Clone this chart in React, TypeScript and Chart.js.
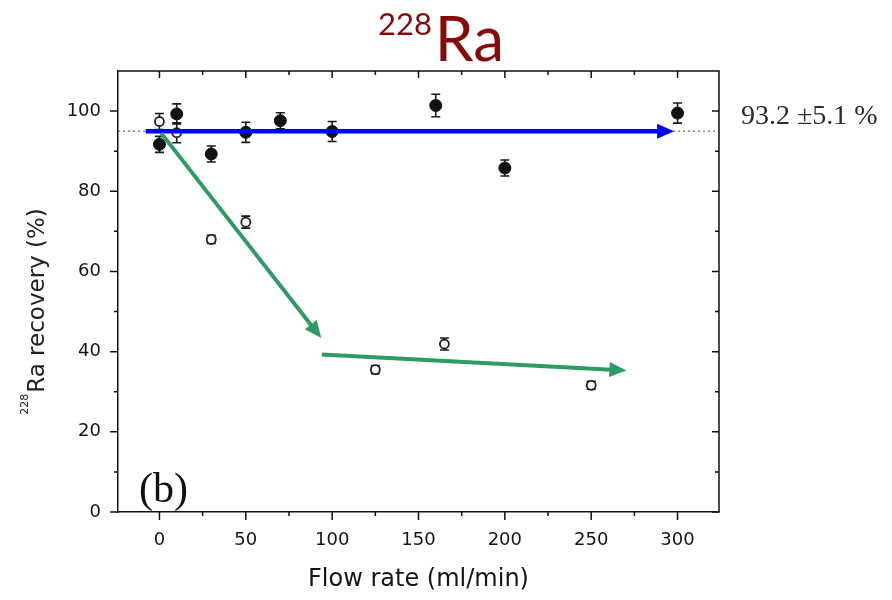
import React, { useEffect, useRef } from "react";
import { Chart, registerables } from "chart.js";

Chart.register(...registerables);

// ---- data ----
const flowFilled = [0, 10, 30, 50, 70, 100, 160, 200, 300];
const recoveryFilled = [91.7, 99.3, 89.3, 94.7, 97.6, 94.9, 101.4, 85.8, 99.5];
const errorFilled = [2, 2.5, 2, 2.5, 2, 2.5, 2.8, 2, 2.5];

const flowOpen = [0, 10, 30, 50, 125, 165, 250];
const recoveryOpen = [97.4, 94.6, 68.0, 72.3, 35.5, 41.9, 31.6];
const errorOpen = [2, 2.5, 1, 1.5, 1, 1.5, 1];

const xMajorTicks = [0, 50, 100, 150, 200, 250, 300];
const xMinorTicks = [25, 75, 125, 175, 225, 275];
const yMajorTicks = [0, 20, 40, 60, 80, 100];
const yMinorTicks = [10, 30, 50, 70, 90];

const meanLineValue = 95;
const meanLabel = "93.2 ±5.1 %";
const panelLabel = "(b)";
const titleMass = "228";
const titleElement = "Ra";
const yTitleMain = "Ra recovery (%)";
const xTitle = "Flow rate (ml/min)";

// arrows in data coordinates [x, y]
const blueArrowFrom = [-8, 95];
const blueArrowTo = [298, 95];
const greenArrow1From = [1, 94.5];
const greenArrow1To = [93.7, 43.4];
const greenArrow2From = [94, 39.3];
const greenArrow2To = [270.4, 35.3];

function drawArrow(
  ctx: CanvasRenderingContext2D,
  x1: number, y1: number, x2: number, y2: number,
  color: string, width: number, headLen: number, headWidth: number
) {
  const a = Math.atan2(y2 - y1, x2 - x1);
  const bx = x2 - headLen * Math.cos(a);
  const by = y2 - headLen * Math.sin(a);
  ctx.save();
  ctx.strokeStyle = color;
  ctx.fillStyle = color;
  ctx.lineWidth = width;
  ctx.lineCap = "butt";
  ctx.beginPath();
  ctx.moveTo(x1, y1);
  ctx.lineTo(bx + Math.cos(a) * 2, by + Math.sin(a) * 2);
  ctx.stroke();
  const px = -Math.sin(a) * headWidth / 2;
  const py = Math.cos(a) * headWidth / 2;
  ctx.beginPath();
  ctx.moveTo(x2, y2);
  ctx.lineTo(bx + px, by + py);
  ctx.lineTo(bx - px, by - py);
  ctx.closePath();
  ctx.fill();
  ctx.restore();
}

const decorPlugin = {
  id: "decor",
  beforeDatasetsDraw(chart: any) {
    const { ctx, chartArea, scales } = chart;
    const { x, y } = scales;
    ctx.save();
    // dotted mean line
    ctx.strokeStyle = "#666";
    ctx.lineWidth = 1.2;
    ctx.setLineDash([2, 3]);
    const my = y.getPixelForValue(meanLineValue);
    ctx.beginPath();
    ctx.moveTo(chartArea.left, my);
    ctx.lineTo(chartArea.right, my);
    ctx.stroke();
    ctx.setLineDash([]);
    // error bars
    ctx.strokeStyle = "#1a1a1a";
    ctx.lineWidth = 1.6;
    const bars = (xs: number[], ys: number[], es: number[]) => {
      xs.forEach((xv, i) => {
        const px = x.getPixelForValue(xv);
        const pt = y.getPixelForValue(ys[i] + es[i]);
        const pb = y.getPixelForValue(ys[i] - es[i]);
        ctx.beginPath();
        ctx.moveTo(px, pt);
        ctx.lineTo(px, pb);
        ctx.moveTo(px - 4.5, pt);
        ctx.lineTo(px + 4.5, pt);
        ctx.moveTo(px - 4.5, pb);
        ctx.lineTo(px + 4.5, pb);
        ctx.stroke();
      });
    };
    bars(flowFilled, recoveryFilled, errorFilled);
    bars(flowOpen, recoveryOpen, errorOpen);
    ctx.restore();
  },
  afterDatasetsDraw(chart: any) {
    const { ctx, scales } = chart;
    const { x, y } = scales;
    const P = (p: number[]) => [x.getPixelForValue(p[0]), y.getPixelForValue(p[1])];
    const b1 = P(blueArrowFrom), b2 = P(blueArrowTo);
    drawArrow(ctx, b1[0], b1[1], b2[0], b2[1], "#0000ff", 4.5, 17, 15);
    const g1 = P(greenArrow1From), g2 = P(greenArrow1To);
    drawArrow(ctx, g1[0], g1[1], g2[0], g2[1], "#2e9b62", 4, 17, 15);
    const g3 = P(greenArrow2From), g4 = P(greenArrow2To);
    drawArrow(ctx, g3[0], g3[1], g4[0], g4[1], "#2e9b62", 4, 17, 15);
  },
  afterDraw(chart: any) {
    const { ctx, chartArea, scales } = chart;
    const { left, right, top, bottom } = chartArea;
    const { x, y } = scales;
    ctx.save();
    ctx.strokeStyle = "#111";
    ctx.lineWidth = 1.5;
    // frame top & right
    ctx.beginPath();
    ctx.moveTo(left, top);
    ctx.lineTo(right, top);
    ctx.lineTo(right, bottom);
    ctx.stroke();
    // ticks
    ctx.beginPath();
    xMajorTicks.forEach((v) => {
      const p = x.getPixelForValue(v);
      ctx.moveTo(p, bottom);
      ctx.lineTo(p, bottom + 8);
      ctx.moveTo(p, top);
      ctx.lineTo(p, top + 7);
    });
    xMinorTicks.forEach((v) => {
      const p = x.getPixelForValue(v);
      ctx.moveTo(p, bottom);
      ctx.lineTo(p, bottom + 4);
      ctx.moveTo(p, top);
      ctx.lineTo(p, top + 4);
    });
    yMajorTicks.forEach((v) => {
      const p = y.getPixelForValue(v);
      ctx.moveTo(left - 8, p);
      ctx.lineTo(left, p);
      ctx.moveTo(right - 7, p);
      ctx.lineTo(right, p);
    });
    yMinorTicks.forEach((v) => {
      const p = y.getPixelForValue(v);
      ctx.moveTo(left - 4, p);
      ctx.lineTo(left, p);
      ctx.moveTo(right - 4, p);
      ctx.lineTo(right, p);
    });
    ctx.stroke();

    // title with superscript
    ctx.fillStyle = "#870a0a";
    ctx.textBaseline = "alphabetic";
    ctx.textAlign = "left";
    ctx.font = "31px Lato";
    const wSup = ctx.measureText(titleMass).width;
    ctx.font = "62px Lato";
    const wMain = ctx.measureText(titleElement).width;
    const cx = 441;
    const startX = cx - (wSup + 3 + wMain) / 2;
    ctx.font = "31px Lato";
    ctx.fillText(titleMass, startX, 35);
    ctx.font = "62px Lato";
    ctx.fillText(titleElement, startX + wSup + 3, 61);

    // y-axis title (rotated) with superscript
    ctx.fillStyle = "#222";
    ctx.save();
    ctx.translate(44, (top + bottom) / 2 + 20);
    ctx.rotate(-Math.PI / 2);
    ctx.font = "11px 'DejaVu Sans'";
    const ws = ctx.measureText(titleMass).width;
    ctx.font = "23px 'DejaVu Sans'";
    const wm = ctx.measureText(yTitleMain).width;
    const sx = -(ws + 1 + wm) / 2;
    ctx.font = "11px 'DejaVu Sans'";
    ctx.fillText(titleMass, sx, -16);
    ctx.font = "23px 'DejaVu Sans'";
    ctx.fillText(yTitleMain, sx + ws + 1, 0);
    ctx.restore();

    // mean label at right
    ctx.fillStyle = "#2a2a2a";
    ctx.font = "28px 'Liberation Serif'";
    ctx.textBaseline = "middle";
    ctx.fillText(meanLabel, right + 22, y.getPixelForValue(meanLineValue) - 14);

    // panel label
    ctx.fillStyle = "#111";
    ctx.font = "42px 'Liberation Serif'";
    ctx.textBaseline = "alphabetic";
    ctx.fillText(panelLabel, left + 21, bottom - 10);
    ctx.restore();
  },
};

export default function App() {
  const ref = useRef<HTMLCanvasElement | null>(null);
  useEffect(() => {
    document.body.style.margin = "0";
    const canvas = ref.current;
    if (!canvas) return;
    const chart = new Chart(canvas, {
      type: "scatter",
      data: {
        datasets: [
          {
            label: "filled",
            data: flowFilled.map((v, i) => ({ x: v, y: recoveryFilled[i] })),
            backgroundColor: "#111",
            borderColor: "#111",
            pointRadius: 6,
            pointBorderWidth: 1,
          },
          {
            label: "open",
            data: flowOpen.map((v, i) => ({ x: v, y: recoveryOpen[i] })),
            backgroundColor: "#ffffff",
            borderColor: "#222",
            pointRadius: 4.5,
            pointBorderWidth: 1.8,
          },
        ],
      },
      plugins: [decorPlugin],
      options: {
        responsive: false,
        animation: false,
        layout: { padding: { left: 0, right: 173, top: 71, bottom: 0 } },
        plugins: {
          legend: { display: false },
          tooltip: { enabled: false },
          title: { display: false },
        },
        scales: {
          x: {
            type: "linear",
            min: -24,
            max: 324,
            afterBuildTicks: (s: any) => {
              s.ticks = xMajorTicks.map((v) => ({ value: v }));
            },
            afterFit: (s: any) => {
              s.height = 88;
            },
            grid: { drawOnChartArea: false, drawTicks: false },
            border: { display: true, color: "#111", width: 1.5 },
            ticks: {
              font: { family: "'DejaVu Sans'", size: 18 },
              color: "#151515",
              padding: 18,
              maxRotation: 0,
            },
            title: {
              display: true,
              text: xTitle,
              font: { family: "'DejaVu Sans'", size: 24 },
              color: "#151515",
              padding: { top: 0, bottom: 6 },
            },
          },
          y: {
            type: "linear",
            min: 0,
            max: 110,
            afterBuildTicks: (s: any) => {
              s.ticks = yMajorTicks.map((v) => ({ value: v }));
            },
            afterFit: (s: any) => {
              s.width = 118;
            },
            grid: { drawOnChartArea: false, drawTicks: false },
            border: { display: true, color: "#111", width: 1.5 },
            ticks: {
              font: { family: "'DejaVu Sans'", size: 18 },
              color: "#151515",
              padding: 17,
            },
          },
        },
      },
    });
    return () => chart.destroy();
  }, []);
  return (
    <div style={{ width: 892, height: 600, background: "#fff" }}>
      <canvas ref={ref} width={892} height={600} style={{ display: "block" }} />
    </div>
  );
}
